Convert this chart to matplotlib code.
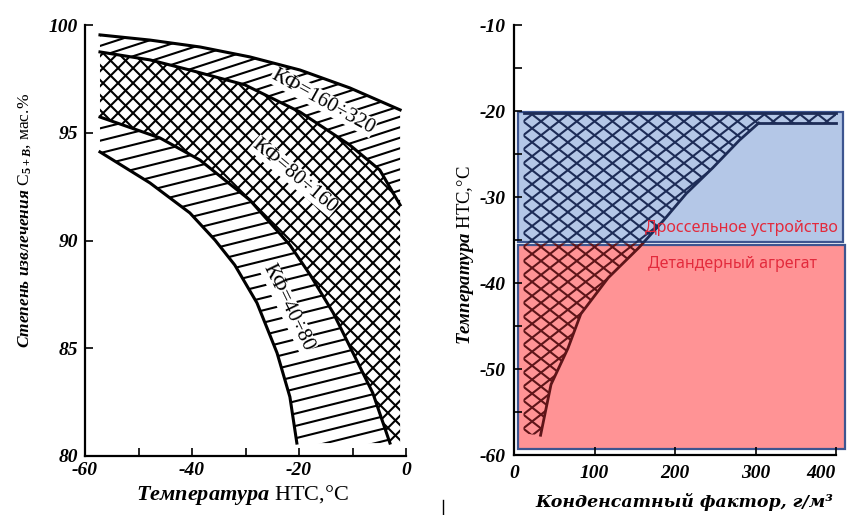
import numpy as np
import matplotlib
matplotlib.use('Agg')
import matplotlib.pyplot as plt
from matplotlib.patches import Polygon, Rectangle
from matplotlib.lines import Line2D
from matplotlib.transforms import Bbox, TransformedBbox

# ============================================================
# Данные
# ============================================================

# левый график: температура НТС, °C -> степень извлечения, мас.%
t_top = [-57.2, -47.85, -38.5, -29.2, -19.8, -10.5, -1.1]
c_top = [99.54, 99.30, 98.98, 98.52, 97.91, 97.08, 96.06]

t_mid = [-57.2, -47.85, -40.4, -30.1, -19.8, -10.5, -4.9, -1.1]
c_mid = [98.75, 98.38, 97.91, 97.22, 95.96, 94.43, 93.27, 91.65]

t_low = [-57.2, -46.0, -38.5, -29.2, -21.7, -17.9, -13.6, -9.9, -6.2, -3.0]
c_low = [95.73, 94.76, 93.73, 91.88, 89.79, 88.40, 86.64, 84.78, 82.92, 80.60]

t_bot = [-57.2, -47.85, -40.4, -35.7, -32.0, -27.85, -24.1, -21.7, -20.4]
c_bot = [94.11, 92.67, 91.28, 90.02, 88.86, 87.10, 84.78, 82.74, 80.60]

kf_labels = ['КФ=160÷320', 'КФ=80÷160', 'КФ=40÷80']

# правый график: конденсатный фактор, г/м3 -> температура НТС, °C
kf_left = 12
kf_right = 400
t_upper = -20.2
t_chain = -21.4
kf_edge = [304, 280, 247, 214, 185, 155, 117, 83, 67, 46, 33]
t_edge = [-21.4, -23.4, -26.6, -29.6, -32.8, -35.9, -39.4, -43.6, -47.6, -51.8, -57.7]
t_bottom_left = -57.5

# зоны
zone_names = ['Дроссельное устройство', 'Детандерный агрегат']
zone_kf = [(5, 409), (5, 411)]
zone_t = [(-35.2, -20.1), (-59.3, -35.6)]
zone_colors = ['#b4c7e7', '#ff9395']
line_colors = ['#1d2c57', '#5e1519']
t_split = -35.4

# ============================================================
# Шрифты
# ============================================================

plt.rcParams['font.family'] = ['Liberation Serif', 'DejaVu Serif']
plt.rcParams['mathtext.fontset'] = 'custom'
plt.rcParams['mathtext.rm'] = 'Liberation Serif:bold'
plt.rcParams['mathtext.it'] = 'Liberation Serif:italic:bold'

tick_font = dict(family='Liberation Serif', style='italic', weight='bold', size=14)

# ============================================================
# Штриховка линиями под произвольным углом
# ============================================================

def hatch(ax, patch, angle, spacing, color, lw):
    fig = ax.figure
    pos = ax.get_position()
    W = pos.width * fig.get_figwidth() * fig.dpi
    H = pos.height * fig.get_figheight() * fig.dpi
    th = np.deg2rad(angle)
    d = np.array([np.cos(th), np.sin(th)])
    n = np.array([-np.sin(th), np.cos(th)])
    L = np.hypot(W, H)
    c0 = np.array([W / 2, H / 2])
    k = int(L / spacing) + 2
    for i in range(-k, k + 1):
        c = c0 + n * i * spacing
        p0 = (c - d * L) / [W, H]
        p1 = (c + d * L) / [W, H]
        ln = Line2D([p0[0], p1[0]], [p0[1], p1[1]], transform=ax.transAxes,
                    color=color, lw=lw, zorder=2)
        ln.set_clip_path(patch)
        ax.add_line(ln)

# ============================================================
# Фигура
# ============================================================

fig = plt.figure(figsize=(8.47, 5.15), dpi=100)
ax1 = fig.add_axes([85 / 847, 1 - 456 / 515, 321 / 847, 431 / 515])
ax2 = fig.add_axes([514 / 847, 1 - 455 / 515, 322 / 847, 430 / 515])

# ------------------------------------------------------------
# Левый график
# ------------------------------------------------------------

ax1.set_xlim(-60, 0)
ax1.set_ylim(80, 100)

band_top = np.column_stack([t_top + t_mid[::-1], c_top + c_mid[::-1]])
band_mid = np.column_stack([t_mid + [t_mid[-1]] + t_low[::-1],
                            c_mid + [c_low[-1]] + c_low[::-1]])
band_low = np.column_stack([t_low + t_bot[::-1], c_low + c_bot[::-1]])

for verts, mode in [(band_top, 'line18'), (band_mid, 'cross'), (band_low, 'line14')]:
    p = Polygon(verts, closed=True, facecolor='none', edgecolor='none')
    ax1.add_patch(p)
    if mode == 'cross':
        hatch(ax1, p, 45, 10.6, 'black', 1.5)
        hatch(ax1, p, -45, 10.6, 'black', 1.5)
    elif mode == 'line18':
        hatch(ax1, p, 18, 10, 'black', 1.5)
    else:
        hatch(ax1, p, 14, 12, 'black', 1.5)

for xs, ys in [(t_top, c_top), (t_mid, c_mid), (t_low, c_low), (t_bot, c_bot)]:
    ax1.plot(xs, ys, color='black', lw=2.2, zorder=5)

label_pos = [(-15.5, 96.45, -29), (-20.8, 93.0, -40), (-22.0, 86.9, -64)]
for txt, (x, y, rot) in zip(kf_labels, label_pos):
    ax1.text(x, y, txt, rotation=rot, ha='center', va='center', fontsize=15,
             family='Liberation Serif', zorder=4,
             bbox=dict(facecolor='white', edgecolor='none', pad=0.3))

ax1.set_xticks([-60, -50, -40, -30, -20, -10, 0])
ax1.set_xticklabels(['-60', '', '-40', '', '-20', '', '0'], fontdict=tick_font)
ax1.set_yticks([80, 85, 90, 95, 100])
ax1.set_yticklabels(['80', '85', '90', '95', '100'], fontdict=tick_font)
ax1.tick_params(direction='in', length=6, width=1.2)
ax1.tick_params(axis='x', pad=4)
ax1.tick_params(axis='y', pad=5)
ax1.spines['top'].set_visible(False)
ax1.spines['right'].set_visible(False)
ax1.spines['left'].set_linewidth(1.6)
ax1.spines['bottom'].set_linewidth(1.6)

fig.text(242 / 847, 1 - 495 / 515, r'$\mathit{Температура}$ НТС,°С',
         ha='center', va='center', fontsize=16)
fig.text(25 / 847, 1 - 220 / 515,
         r'$\mathit{Степень\ извлечения}$ C$_{5+В}$, мас.%',
         ha='center', va='center', rotation=90, fontsize=12.5)

# ------------------------------------------------------------
# Правый график
# ------------------------------------------------------------

ax2.set_xlim(0, 400)
ax2.set_ylim(-60, -10)

for (x0, x1), (y0, y1), fc in zip(zone_kf, zone_t, zone_colors):
    r = Rectangle((x0, y0), x1 - x0, y1 - y0, facecolor=fc, edgecolor='#3d5590',
                  lw=1.6, clip_on=False, zorder=1)
    ax2.add_patch(r)

# область, разбитая по границе зон
kf_split = np.interp(t_split, t_edge[::-1], kf_edge[::-1])
up_pts = [(kf_left, t_upper), (kf_right, t_upper), (kf_right, t_chain)]
up_pts += [(x, y) for x, y in zip(kf_edge, t_edge) if y > t_split]
up_pts += [(kf_split, t_split), (kf_left, t_split)]
lo_pts = [(kf_left, t_split), (kf_split, t_split)]
lo_pts += [(x, y) for x, y in zip(kf_edge, t_edge) if y <= t_split]
lo_pts += [(kf_left, t_bottom_left)]

clips = [TransformedBbox(Bbox.from_extents(-50, t_split, 450, 0), ax2.transData),
         TransformedBbox(Bbox.from_extents(-50, -70, 450, t_split), ax2.transData)]

for pts, clip, lc in zip([up_pts, lo_pts], clips, line_colors):
    reg = Polygon(np.array(pts), closed=True, facecolor='none', edgecolor='none')
    ax2.add_patch(reg)
    hatch(ax2, reg, 38, 11, lc, 1.5)
    hatch(ax2, reg, -38, 11, lc, 1.5)
    for xs, ys in [(kf_edge, t_edge),
                   ([kf_left, kf_right], [t_upper, t_upper]),
                   ([kf_edge[0], kf_right], [t_chain, t_chain])]:
        ln, = ax2.plot(xs, ys, color=lc, lw=2.0, zorder=3)
        ln.set_clip_box(clip)

ax2.text(402, -33.6, zone_names[0], ha='right', va='center', color='#e32a3c',
         fontsize=11.5, family='Noto Sans', zorder=6)
ax2.text(271, -37.8, zone_names[1], ha='center', va='center', color='#e32a3c',
         fontsize=11.5, family='Noto Sans', zorder=6)

ax2.set_xticks([0, 100, 200, 300, 400])
ax2.set_xticklabels(['0', '100', '200', '300', '400'], fontdict=tick_font)
ax2.get_xticklabels()[-1].set_horizontalalignment('right')
ax2.set_yticks([-60, -55, -50, -45, -40, -35, -30, -25, -20, -15, -10])
ax2.set_yticklabels(['-60', '', '-50', '', '-40', '', '-30', '', '-20', '', '-10'],
                    fontdict=tick_font)
ax2.tick_params(direction='in', length=6, width=1.2)
ax2.tick_params(axis='x', pad=7)
ax2.tick_params(axis='y', pad=6)
ax2.spines['top'].set_visible(False)
ax2.spines['right'].set_visible(False)
ax2.spines['left'].set_linewidth(1.6)
ax2.spines['bottom'].set_linewidth(1.6)

fig.text(465 / 847, 1 - 255 / 515, r'$\mathit{Температура}$ НТС,°С',
         ha='center', va='center', rotation=90, fontsize=13.5)
fig.text(684 / 847, 1 - 502 / 515, 'Конденсатный фактор, г/м³',
         ha='center', va='center', fontsize=12.5, family='DejaVu Serif',
         style='italic', weight='bold')

# курсор на скриншоте
fig.add_artist(Line2D([443 / 847, 443 / 847], [0, 15 / 515],
                      transform=fig.transFigure, color='black', lw=1))

fig.savefig('out.png', dpi=100)
